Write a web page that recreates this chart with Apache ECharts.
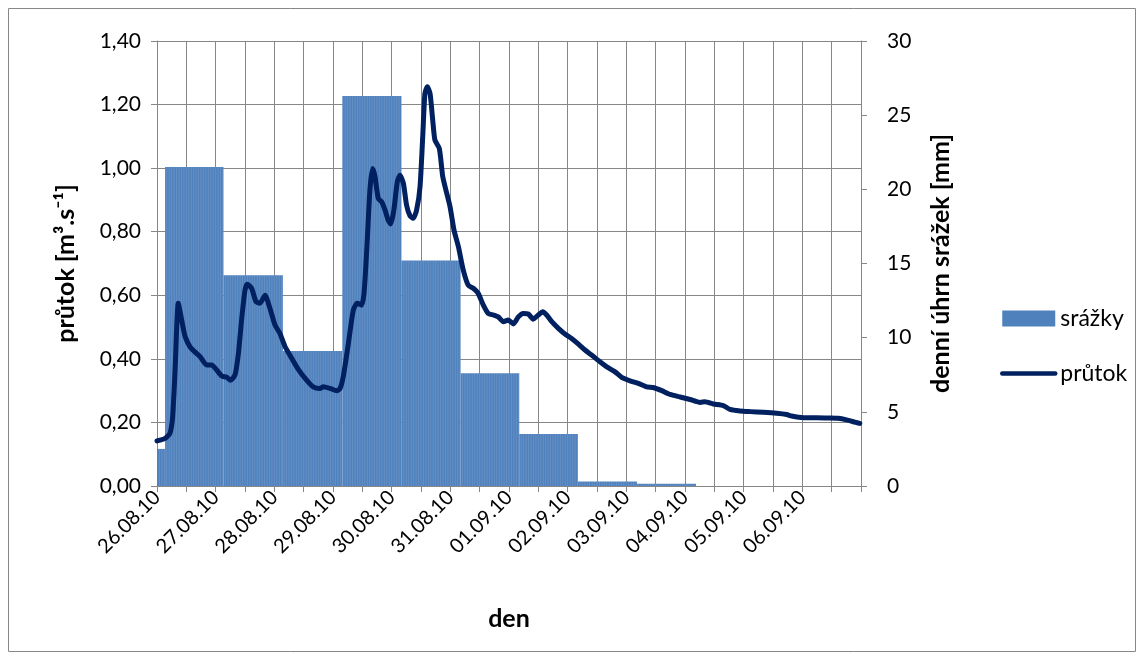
<!DOCTYPE html>
<html>
<head>
<meta charset="utf-8">
<script src="https://cdn.jsdelivr.net/npm/echarts@6/dist/echarts.min.js"></script>
<style>
html,body{margin:0;padding:0;background:#fff;}
#chart{width:1144px;height:660px;}
</style>
</head>
<body>
<div id="chart"></div>
<script>
// x in hours since 26.08.10 00:00
const dateLabels = ['26.08.10','27.08.10','28.08.10','29.08.10','30.08.10','31.08.10','01.09.10','02.09.10','03.09.10','04.09.10','05.09.10','06.09.10'];

// daily precipitation (mm), each drawn over [start, end] hours
const precipStart = [0, 3.3, 27.2, 51.5, 75.8, 100.0, 124.2, 148.2, 172.2, 196.4];
const precipEnd   = [3.3, 27.2, 51.5, 75.8, 100.0, 124.2, 148.2, 172.2, 196.4, 220.5];
const precipValues = [2.5, 21.5, 14.2, 9.1, 26.3, 15.2, 7.6, 3.5, 0.3, 0.15];

// discharge (m3/s)
const flowHours = [0, 3.3, 5.3, 6.4, 7.4, 8.7, 10.1, 11.5, 13.5, 15.5, 17.6, 20.3, 22.4, 24.4, 26.5, 28.5, 30.1, 31.9, 33.3, 34.6, 36.0, 36.9, 38.7, 40.5, 42.1, 44.2, 46.2, 48.3, 50.3, 52.4, 55.1, 57.8, 61.2, 63.9, 66.7, 68.0, 70.8, 73.5, 74.9, 76.2, 78.3, 80.3, 81.9, 83.7, 84.7, 85.8, 87.1, 88.2, 89.2, 90.5, 91.9, 93.3, 94.6, 95.6, 96.9, 98.3, 99.4, 100.8, 102.1, 103.5, 104.8, 106.2, 107.6, 108.7, 109.6, 110.6, 111.7, 112.8, 113.7, 115.5, 116.9, 118.2, 119.9, 121.5, 123.3, 125.3, 127.3, 129.4, 131.4, 133.5, 135.5, 137.6, 139.6, 141.7, 143.7, 145.8, 147.8, 149.8, 151.9, 153.9, 156.0, 157.8, 159.4, 161.5, 164.2, 166.9, 169.6, 172.3, 175.1, 177.8, 181.2, 184.0, 187.4, 190.1, 193.5, 196.9, 200.3, 203.0, 206.5, 209.9, 214.0, 218.1, 222.2, 224.2, 227.6, 231.7, 234.4, 238.5, 242.6, 248.0, 253.5, 257.6, 259.6, 264.4, 269.9, 275.3, 278.7, 282.1, 285.5, 287.5];
const flowValues = [0.142, 0.150, 0.166, 0.218, 0.365, 0.575, 0.522, 0.470, 0.438, 0.422, 0.407, 0.381, 0.381, 0.365, 0.346, 0.342, 0.333, 0.349, 0.417, 0.522, 0.616, 0.635, 0.622, 0.580, 0.575, 0.600, 0.559, 0.506, 0.480, 0.438, 0.402, 0.367, 0.333, 0.312, 0.307, 0.312, 0.307, 0.300, 0.307, 0.344, 0.449, 0.553, 0.575, 0.569, 0.606, 0.742, 0.931, 0.999, 0.973, 0.905, 0.894, 0.868, 0.836, 0.824, 0.868, 0.957, 0.978, 0.952, 0.883, 0.850, 0.842, 0.868, 0.941, 1.098, 1.235, 1.256, 1.235, 1.151, 1.088, 1.062, 0.973, 0.931, 0.878, 0.805, 0.753, 0.679, 0.632, 0.622, 0.606, 0.569, 0.543, 0.538, 0.532, 0.517, 0.522, 0.510, 0.532, 0.543, 0.541, 0.525, 0.538, 0.548, 0.538, 0.517, 0.496, 0.478, 0.464, 0.447, 0.428, 0.412, 0.391, 0.375, 0.359, 0.342, 0.331, 0.323, 0.312, 0.310, 0.300, 0.288, 0.280, 0.272, 0.263, 0.265, 0.258, 0.253, 0.241, 0.236, 0.234, 0.232, 0.229, 0.225, 0.220, 0.215, 0.215, 0.214, 0.213, 0.208, 0.201, 0.197];

const FONT = 'Lato';
const GRID = '#878787';
const LINE = '#002060';

const precipData = precipValues.map((v, i) => [precipStart[i], precipEnd[i], v]);
const flowData = flowValues.map((v, i) => [flowHours[i], v]);

const chart = echarts.init(document.getElementById('chart'), null, {renderer: 'canvas'});
chart.setOption({
  animation: false,
  backgroundColor: '#fff',
  textStyle: {fontFamily: FONT, color: '#000'},
  graphic: [{
    type: 'rect', silent: true, z: -10,
    shape: {x: 8.5, y: 8.5, width: 1127, height: 643},
    style: {fill: 'none', stroke: GRID, lineWidth: 1}
  }],
  grid: {left: 157, right: 283, top: 41, bottom: 174, containLabel: false},
  legend: {
    orient: 'vertical', left: 1000, top: 307, padding: 0,
    itemWidth: 53, itemHeight: 16, itemGap: 32,
    textStyle: {fontFamily: FONT, fontSize: 23, color: '#000', lineHeight: 16},
    data: [
      {name: 'srážky', icon: 'rect'},
      {name: 'průtok', itemStyle: {opacity: 0}, lineStyle: {width: 4.5, color: LINE, cap: 'round'}}
    ]
  },
  xAxis: {
    type: 'value', min: 0, max: 288, interval: 12,
    name: 'den', nameLocation: 'middle', nameGap: 120,
    nameTextStyle: {fontFamily: FONT, fontSize: 25, fontWeight: 'bold', color: '#000'},
    axisLine: {show: true, lineStyle: {color: GRID, width: 1}},
    axisTick: {show: true, length: 6, lineStyle: {color: GRID}},
    splitLine: {show: true, lineStyle: {color: GRID, width: 1}},
    axisLabel: {
      rotate: 45, fontSize: 20, color: '#000', fontFamily: FONT, margin: 8,
      showMaxLabel: true, showMinLabel: true,
      formatter: v => (v % 24 === 0 && v / 24 < dateLabels.length) ? dateLabels[v / 24] : ''
    }
  },
  yAxis: [{
    type: 'value', min: 0, max: 1.4, interval: 0.2, position: 'left',
    name: 'průtok [m³.s⁻¹]', nameLocation: 'middle', nameGap: 79,
    nameTextStyle: {fontFamily: FONT, fontSize: 25, fontWeight: 'bold', color: '#000'},
    axisLine: {show: true, lineStyle: {color: GRID}},
    axisTick: {show: true, length: 6, lineStyle: {color: GRID}},
    splitLine: {show: true, lineStyle: {color: GRID, width: 1}},
    axisLabel: {fontSize: 21, color: '#000', fontFamily: FONT, margin: 16,
      formatter: v => v.toFixed(2).replace('.', ',')}
  }, {
    type: 'value', min: 0, max: 30, interval: 5, position: 'right',
    name: 'denní úhrn srážek [mm]', nameLocation: 'middle', nameGap: 67,
    nameTextStyle: {fontFamily: FONT, fontSize: 25, fontWeight: 'bold', color: '#000'},
    axisLine: {show: true, lineStyle: {color: GRID}},
    axisTick: {show: true, length: 6, lineStyle: {color: GRID}},
    splitLine: {show: false},
    axisLabel: {fontSize: 21, color: '#000', fontFamily: FONT, margin: 26}
  }],
  series: [{
    name: 'srážky', type: 'custom', xAxisIndex: 0, yAxisIndex: 1,
    itemStyle: {color: '#4F81BD'},
    encode: {x: [0, 1], y: 2},
    data: precipData,
    renderItem: function (params, api) {
      const s = api.value(0), e = api.value(1), v = api.value(2);
      const p1 = api.coord([s, v]);
      const p2 = api.coord([e, 0]);
      const children = [{
        type: 'rect',
        shape: {x: p1[0], y: p1[1], width: p2[0] - p1[0], height: p2[1] - p1[1]},
        style: {fill: api.visual('color')}
      }];
      // faint hourly column separators, as in the original hourly bar series
      for (let h = Math.floor(s) + 1; h < e; h++) {
        const px = api.coord([h, 0])[0];
        children.push({
          type: 'line',
          shape: {x1: px, y1: p1[1], x2: px, y2: p2[1]},
          style: {stroke: 'rgba(255,255,255,0.18)', lineWidth: 0.7}
        });
      }
      return {type: 'group', children: children};
    },
    z: 2
  }, {
    name: 'průtok', type: 'line', xAxisIndex: 0, yAxisIndex: 0,
    data: flowData, showSymbol: false, symbol: 'none',
    smooth: 0.2,
    lineStyle: {color: LINE, width: 5, cap: 'round', join: 'round'},
    itemStyle: {color: LINE},
    z: 3
  }]
});
</script>
</body>
</html>
